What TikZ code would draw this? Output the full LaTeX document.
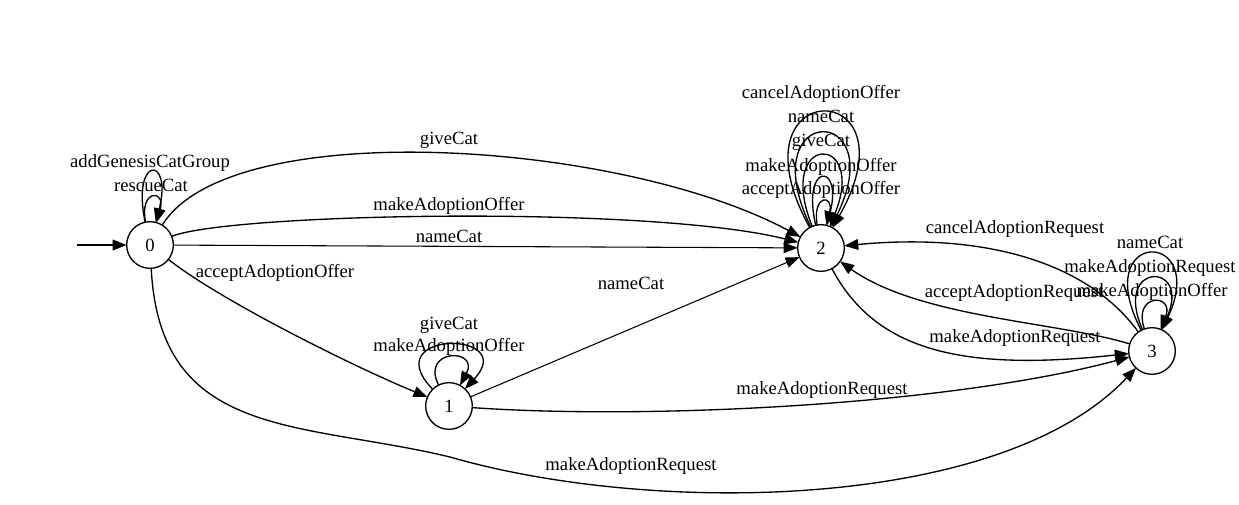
\documentclass[tikz,border=0pt]{standalone}
\usepackage{tikz}
\usepackage{tkz-graph}
\usepackage{fontspec}
\setmainfont{Liberation Serif}
\newfontfamily\dotserif{Liberation Serif}
\usetikzlibrary{shapes,arrows,arrows.meta}
\newcommand{\gvfont}{\dotserif\fontsize{14}{16}\selectfont}
\SetVertexNoMath
\tikzset{trlabel/.style = {font=\gvfont, inner sep=0pt, anchor=base}}

\begin{document}
\begin{tikzpicture}[x=0.75pt, y=-0.75pt, line width=1pt,
		>={Triangle[length=10.5pt, width=8pt]}]
	\useasboundingbox (0,0) rectangle (1239,505);
	\SetVertexNormal[Shape     = circle,
	                 FillColor = white,
	                 LineWidth = 1pt,
	                 MinSize   = 35pt]
	\tikzset{VertexStyle/.append style = {font=\gvfont}}
	\Vertex[x=150,y=245,L=0]{S0}
	\Vertex[x=449,y=406,L=1]{S1}
	\Vertex[x=821,y=248,L=2]{S2}
	\Vertex[x=1152,y=351,L=3]{S3}
	\coordinate (init) at (77,245);
	\tikzstyle{EdgeStyle}=[->]
	\draw[EdgeStyle] (init) -- (S0);
	\Edge(S0)(S2)
	\Edge(S1)(S2)
	\draw[EdgeStyle] (S0) .. controls (230,115) and (620,140) .. (S2);
	\draw[EdgeStyle] (S0) .. controls (230,213) and (650,205) .. (S2);
	\draw[EdgeStyle] (S0) .. controls (220,300) and (350,365) .. (S1);
	\draw[EdgeStyle] (S0) .. controls (160,440) and (300,421) .. (450,457)
		.. controls (650,515) and (1000,512) .. (S3);
	\draw[EdgeStyle] (S1) .. controls (650,420) and (950,405) .. (S3);
	\draw[EdgeStyle] (S2) .. controls (875,350) and (960,372) .. (S3);
	\draw[EdgeStyle] (S3) .. controls (1060,322) and (920,318) .. (S2);
	\draw[EdgeStyle] (S3) .. controls (1090,265) and (990,232) .. (S2);
	\draw[EdgeStyle] (S0) .. controls (139,189) and (166,189) .. (S0);
	\draw[EdgeStyle] (S0) .. controls (131,155) and (173,155) .. (S0);
	\draw[EdgeStyle] (S1) .. controls (420,348) and (480,348) .. (S1);
	\draw[EdgeStyle] (S1) .. controls (375,330) and (520,330) .. (S1);
	\draw[EdgeStyle] (S2) .. controls (812,194) and (834,194) .. (S2);
	\draw[EdgeStyle] (S2) .. controls (801,162) and (843,162) .. (S2);
	\draw[EdgeStyle] (S2) .. controls (774,132) and (868,132) .. (S2);
	\draw[EdgeStyle] (S2) .. controls (750,102) and (892,102) .. (S2);
	\draw[EdgeStyle] (S2) .. controls (725,74) and (920,74) .. (S2);
	\draw[EdgeStyle] (S3) .. controls (1132,293) and (1175,293) .. (S3);
	\draw[EdgeStyle] (S3) .. controls (1112,261) and (1192,261) .. (S3);
	\draw[EdgeStyle] (S3) .. controls (1088,228) and (1210,228) .. (S3);
	\node[trlabel] (lres) at (151,192) {rescueCat};
	\node[trlabel] (lgen) at (150,168) {addGenesisCatGroup};
	\node[trlabel] (lgive02) at (449,145) {giveCat};
	\node[trlabel] (loff02) at (449,211) {makeAdoptionOffer};
	\node[trlabel] (lname02) at (449,243) {nameCat};
	\node[trlabel] (lacc01) at (275,278) {acceptAdoptionOffer};
	\node[trlabel] (lreq03) at (631,471) {makeAdoptionRequest};
	\node[trlabel] (lgive11) at (449,330) {giveCat};
	\node[trlabel] (loff11) at (449,352) {makeAdoptionOffer};
	\node[trlabel] (lname12) at (631,290) {nameCat};
	\node[trlabel] (lreq13) at (822,395) {makeAdoptionRequest};
	\node[trlabel] (lcan22) at (821,99) {cancelAdoptionOffer};
	\node[trlabel] (lname22) at (821,123) {nameCat};
	\node[trlabel] (lgive22) at (821,147) {giveCat};
	\node[trlabel] (loff22) at (821,172) {makeAdoptionOffer};
	\node[trlabel] (lacc22) at (821,195) {acceptAdoptionOffer};
	\node[trlabel] (lcan32) at (1015,234) {cancelAdoptionRequest};
	\node[trlabel] (lacc32) at (1014,298) {acceptAdoptionRequest};
	\node[trlabel] (lreq23) at (1015,343) {makeAdoptionRequest};
	\node[trlabel] (lname33) at (1150,249) {nameCat};
	\node[trlabel] (lreq33) at (1150,273) {makeAdoptionRequest};
	\node[trlabel] (loff33) at (1152,297) {makeAdoptionOffer};
\end{tikzpicture}
\end{document}
